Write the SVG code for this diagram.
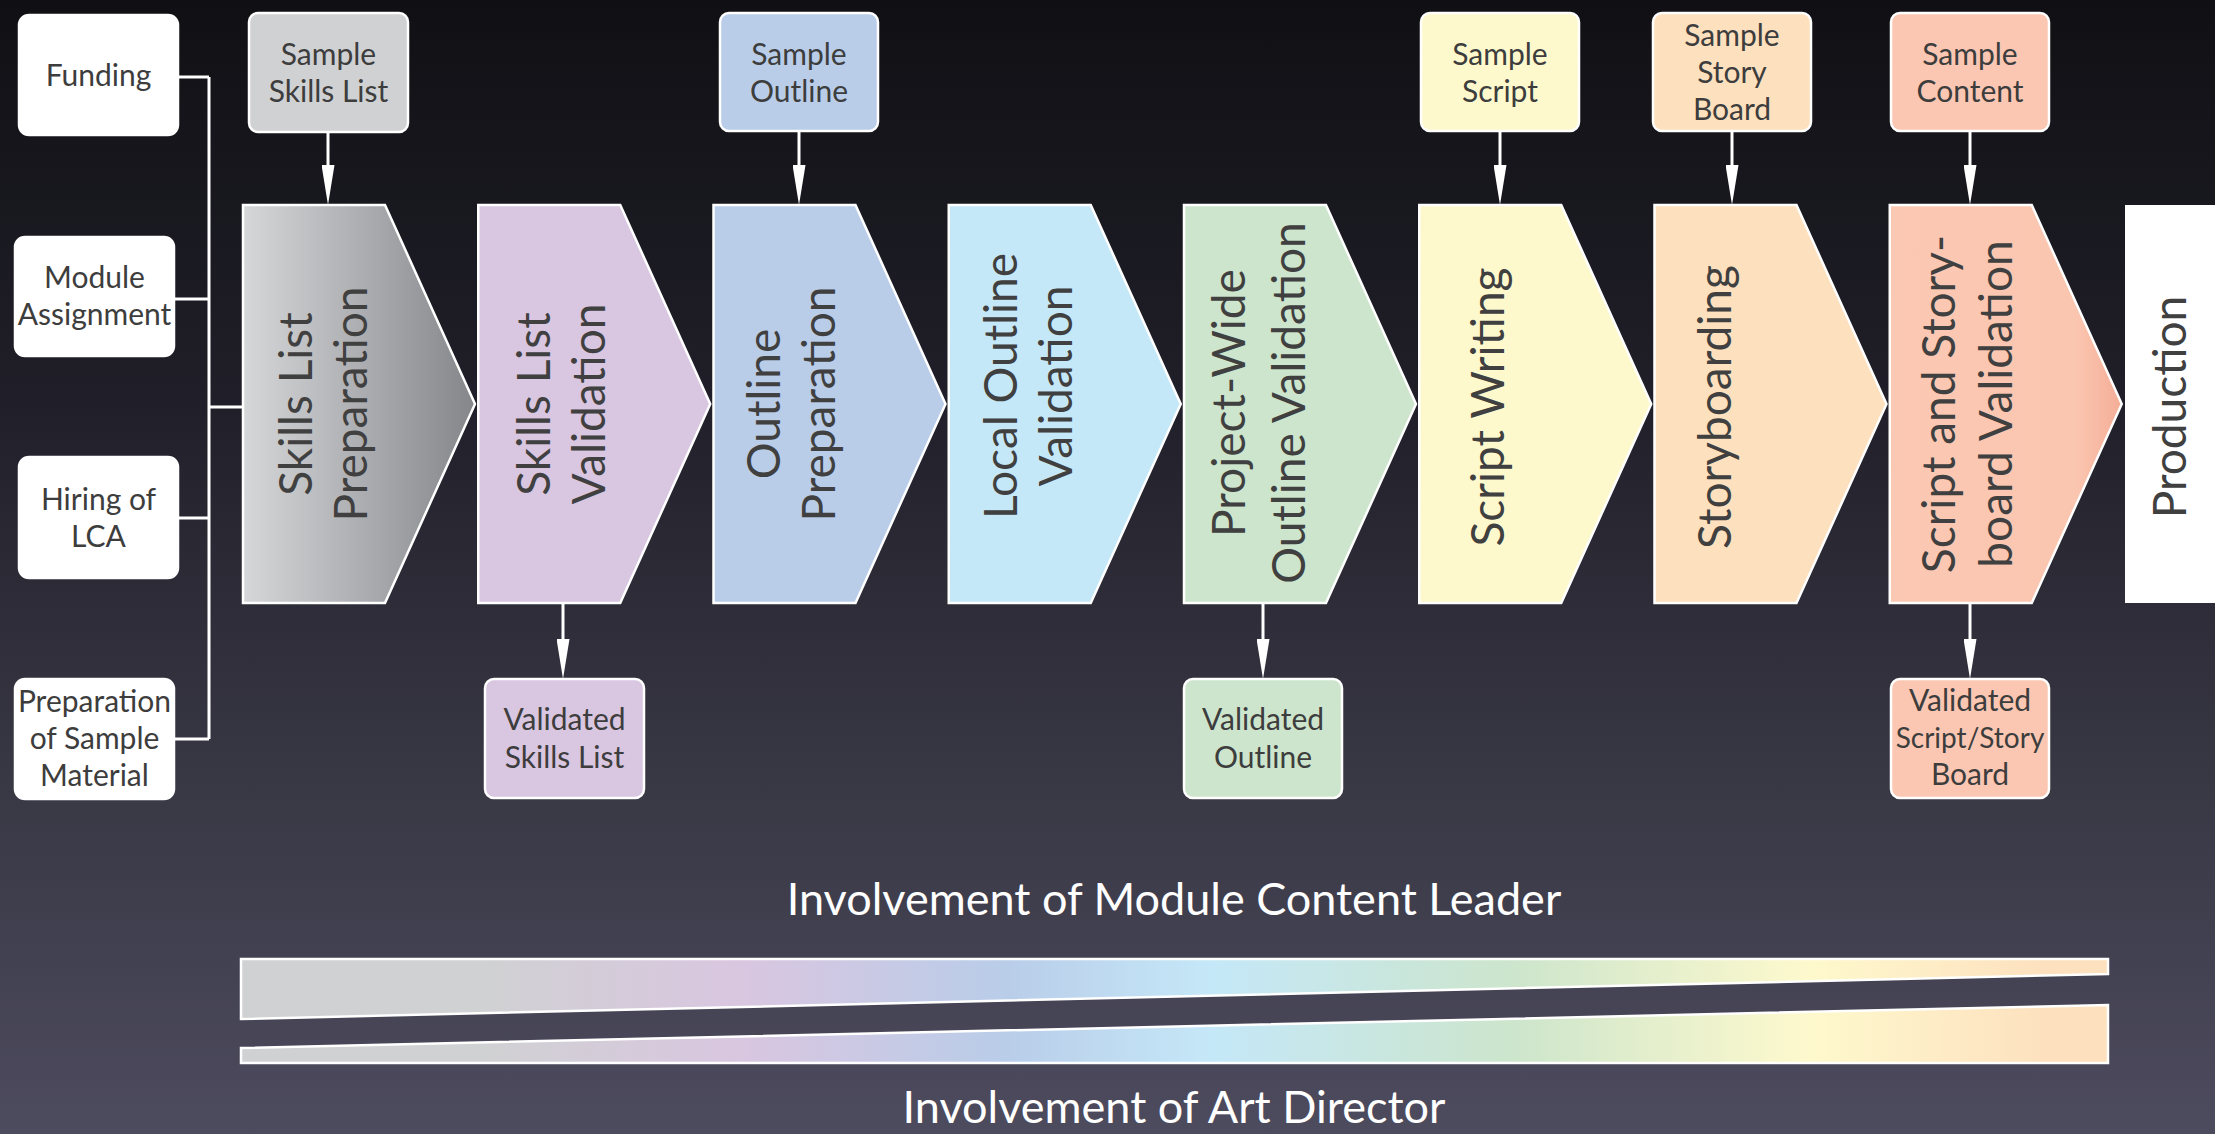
<svg xmlns="http://www.w3.org/2000/svg" width="2215" height="1134" viewBox="0 0 2215 1134">
<defs>
<linearGradient id="bg" x1="0" y1="0" x2="0" y2="1">
<stop offset="0" stop-color="#101014"/>
<stop offset="0.35" stop-color="#201f29"/>
<stop offset="0.7" stop-color="#393845"/>
<stop offset="1" stop-color="#4d4b5e"/>
</linearGradient>
<linearGradient id="g1" x1="0" y1="0" x2="1" y2="0">
<stop offset="0" stop-color="#d6d7d9"/>
<stop offset="1" stop-color="#85868a"/>
</linearGradient>
<linearGradient id="g8" x1="0" y1="0" x2="1" y2="0">
<stop offset="0" stop-color="#fbc8b3"/>
<stop offset="0.8" stop-color="#fbc6b0"/>
<stop offset="1" stop-color="#f4ad97"/>
</linearGradient>
<linearGradient id="bar" gradientUnits="userSpaceOnUse" x1="241" y1="0" x2="2108" y2="0">
<stop offset="0" stop-color="#d0d1d3"/>
<stop offset="0.13" stop-color="#d0d1d3"/>
<stop offset="0.27" stop-color="#d9c6e0"/>
<stop offset="0.41" stop-color="#b9cde9"/>
<stop offset="0.52" stop-color="#c5e8f8"/>
<stop offset="0.68" stop-color="#cce5cc"/>
<stop offset="0.84" stop-color="#fef9cd"/>
<stop offset="0.97" stop-color="#fde0be"/>
<stop offset="1" stop-color="#fde0be"/>
</linearGradient>
<marker id="ah" markerUnits="userSpaceOnUse" viewBox="0 0 40 13" markerWidth="40" markerHeight="13" refX="10" refY="6.5" orient="auto">
<path d="M0,0 L40,6.5 L0,13 Z" fill="#ffffff"/>
</marker>
<style>
.box{stroke:#ffffff;stroke-width:2.5}
.chev{stroke:#ffffff;stroke-width:2.5}
.bt{font-family:Lato,"Open Sans","Liberation Sans",sans-serif;font-size:30px;fill:#3d3d3d;text-anchor:middle}
.ct{font-family:Lato,"Open Sans","Liberation Sans",sans-serif;font-size:46px;fill:#404040;text-anchor:middle}
.lt{font-family:Lato,"Open Sans","Liberation Sans",sans-serif;font-size:45px;fill:#ffffff;text-anchor:middle}
.ln{stroke:#ffffff;stroke-width:3;fill:none}
.ar{stroke:#ffffff;stroke-width:3;fill:none;marker-end:url(#ah)}
</style>
</defs>
<rect x="0" y="0" width="2215" height="1134" fill="url(#bg)"/>

<g id="connectors">
<path class="ln" d="M178,77 H209 M174,299 H209 M178,518 H209 M174,739 H209 M209,77 V739 M209,407 H244"/>
<line class="ar" x1="328" y1="132" x2="328" y2="175"/>
<line class="ar" x1="799" y1="131" x2="799" y2="175"/>
<line class="ar" x1="1500" y1="131" x2="1500" y2="175"/>
<line class="ar" x1="1732" y1="131" x2="1732" y2="175"/>
<line class="ar" x1="1970" y1="131" x2="1970" y2="175"/>
<line class="ar" x1="563" y1="603" x2="563" y2="649"/>
<line class="ar" x1="1263" y1="603" x2="1263" y2="649"/>
<line class="ar" x1="1970" y1="603" x2="1970" y2="649"/>
</g>

<g id="funding"><rect class="box" x="19" y="15" width="159" height="120" rx="10" fill="#ffffff"/><text class="bt" x="98.5" y="86">Funding</text></g>
<g id="module-assignment"><rect class="box" x="15" y="237" width="159" height="119" rx="10" fill="#ffffff"/><text class="bt" x="94.5" y="288">Module</text><text class="bt" x="94.5" y="325">Assignment</text></g>
<g id="hiring-lca"><rect class="box" x="19" y="457" width="159" height="121" rx="10" fill="#ffffff"/><text class="bt" x="98.5" y="510">Hiring of</text><text class="bt" x="98.5" y="547">LCA</text></g>
<g id="prep-sample"><rect class="box" x="15" y="679" width="159" height="120" rx="10" fill="#ffffff"/><text class="bt" x="94.5" y="712">Preparation</text><text class="bt" x="94.5" y="749">of Sample</text><text class="bt" x="94.5" y="786">Material</text></g>

<g id="sample-skills"><rect class="box" x="249" y="13" width="159" height="119" rx="9" fill="#d0d1d3"/><text class="bt" x="328.5" y="65">Sample</text><text class="bt" x="328.5" y="102">Skills List</text></g>
<g id="sample-outline"><rect class="box" x="720" y="13" width="158" height="118" rx="9" fill="#b9cde9"/><text class="bt" x="799" y="65">Sample</text><text class="bt" x="799" y="102">Outline</text></g>
<g id="sample-script"><rect class="box" x="1421" y="13" width="158" height="118" rx="9" fill="#fef9cd"/><text class="bt" x="1500" y="65">Sample</text><text class="bt" x="1500" y="102">Script</text></g>
<g id="sample-storyboard"><rect class="box" x="1653" y="13" width="158" height="118" rx="9" fill="#fde0be"/><text class="bt" x="1732" y="46">Sample</text><text class="bt" x="1732" y="83">Story</text><text class="bt" x="1732" y="120">Board</text></g>
<g id="sample-content"><rect class="box" x="1891" y="13" width="158" height="118" rx="9" fill="#fbc7b2"/><text class="bt" x="1970" y="65">Sample</text><text class="bt" x="1970" y="102">Content</text></g>

<g id="step1" transform="translate(243,0)"><path class="chev" d="M0,205 H142 L232,404 L142,603 H0 Z" fill="url(#g1)"/><text class="ct" transform="translate(69,404) rotate(-90)">Skills List</text><text class="ct" transform="translate(124,404) rotate(-90)">Preparation</text></g>
<g id="step2" transform="translate(478.25,0)"><path class="chev" d="M0,205 H142 L232,404 L142,603 H0 Z" fill="#d9c6e0"/><text class="ct" transform="translate(72,404) rotate(-90)">Skills List</text><text class="ct" transform="translate(127,404) rotate(-90)">Validation</text></g>
<g id="step3" transform="translate(713.5,0)"><path class="chev" d="M0,205 H142 L232,404 L142,603 H0 Z" fill="#b9cde9"/><text class="ct" transform="translate(66,404) rotate(-90)">Outline</text><text class="ct" transform="translate(121,404) rotate(-90)">Preparation</text></g>
<g id="step4" transform="translate(948.75,0)"><path class="chev" d="M0,205 H142 L232,404 L142,603 H0 Z" fill="#c5e8f8"/><text class="ct" transform="translate(68,386) rotate(-90)">Local Outline</text><text class="ct" transform="translate(123,386) rotate(-90)">Validation</text></g>
<g id="step5" transform="translate(1184,0)"><path class="chev" d="M0,205 H142 L232,404 L142,603 H0 Z" fill="#cce5cc"/><text class="ct" transform="translate(61,403) rotate(-90)">Project-Wide</text><text class="ct" transform="translate(121,403) rotate(-90)">Outline Validation</text></g>
<g id="step6" transform="translate(1419.25,0)"><path class="chev" d="M0,205 H142 L232,404 L142,603 H0 Z" fill="#fef9cd"/><text class="ct" transform="translate(85,407) rotate(-90)">Script Writing</text></g>
<g id="step7" transform="translate(1654.5,0)"><path class="chev" d="M0,205 H142 L232,404 L142,603 H0 Z" fill="#fde0be"/><text class="ct" transform="translate(76,407) rotate(-90)">Storyboarding</text></g>
<g id="step8" transform="translate(1889.75,0)"><path class="chev" d="M0,205 H142 L232,404 L142,603 H0 Z" fill="url(#g8)"/><text class="ct" transform="translate(65,404) rotate(-90)">Script and Story-</text><text class="ct" transform="translate(122,404) rotate(-90)">board Validation</text></g>
<g id="production"><rect x="2125" y="205" width="95" height="398" fill="#ffffff"/><text class="ct" transform="translate(2186,407) rotate(-90)">Production</text></g>

<g id="validated-skills"><rect class="box" x="485" y="679" width="159" height="119" rx="9" fill="#d9c6e0"/><text class="bt" x="564.5" y="730">Validated</text><text class="bt" x="564.5" y="768">Skills List</text></g>
<g id="validated-outline"><rect class="box" x="1184" y="679" width="158" height="119" rx="9" fill="#cce5cc"/><text class="bt" x="1263" y="730">Validated</text><text class="bt" x="1263" y="768">Outline</text></g>
<g id="validated-script"><rect class="box" x="1891" y="679" width="158" height="119" rx="9" fill="#fbc7b2"/><text class="bt" x="1970" y="711">Validated</text><text class="bt" x="1970" y="748" style="font-size:28px">Script/Story</text><text class="bt" x="1970" y="785">Board</text></g>

<g id="involvement">
<text class="lt" x="1174" y="915">Involvement of Module Content Leader</text>
<path d="M241,959 H2108 V974 L241,1019 Z" fill="url(#bar)" stroke="#ffffff" stroke-width="2.5"/>
<path d="M241,1048 L2108,1005 V1063 H241 Z" fill="url(#bar)" stroke="#ffffff" stroke-width="2.5"/>
<text class="lt" x="1174" y="1123">Involvement of Art Director</text>
</g>
</svg>
